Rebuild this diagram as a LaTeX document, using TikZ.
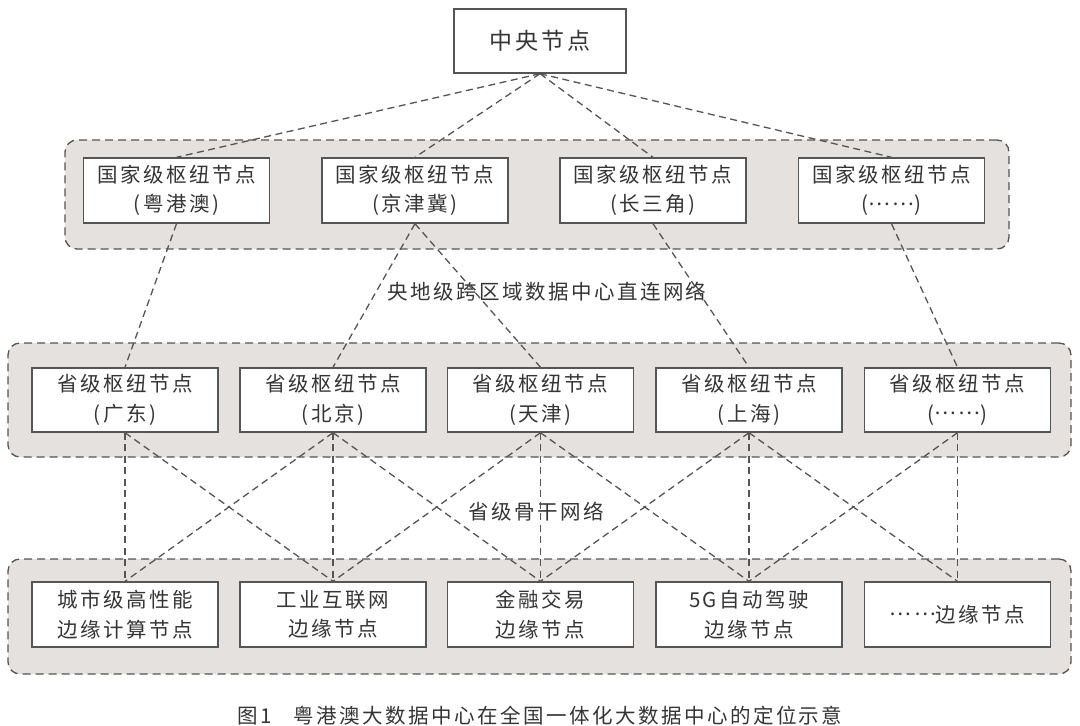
\documentclass[tikz,border=0pt]{standalone}
\usepackage{fontspec}
\setmainfont[LetterSpace=12]{Noto Sans CJK SC}
\definecolor{txt}{HTML}{353535}
\definecolor{edgec}{HTML}{555555}
\definecolor{panelc}{HTML}{E4E1DE}
\newcommand\midellip{\raisebox{0.32em}{……}}
\begin{document}
\begin{tikzpicture}[x=1pt,y=-1pt,
  box/.style={draw=edgec, line width=1.4pt, fill=white, minimum width=186pt,
    minimum height=65pt, inner sep=0pt, align=center, text=txt,
    font=\fontsize{20.5}{29.5}\selectfont},
  panel/.style={draw=edgec, line width=1.3pt, dash pattern=on 8pt off 5pt,
    fill=panelc, rounded corners=12pt, inner sep=0pt},
  link/.style={draw=edgec, line width=1.3pt, dash pattern=on 7pt off 4.5pt},
  lbl/.style={text=txt, inner sep=0pt, font=\fontsize{20.5}{24}\selectfont}]
\useasboundingbox[fill=white] (0,0) rectangle (1080,726);
% containers
\node[panel, minimum width=944pt, minimum height=109pt] (p1) at (537,194.5) {};
\node[panel, minimum width=1063pt, minimum height=114pt] (p2) at (539.5,400) {};
\node[panel, minimum width=1063pt, minimum height=115pt] (p3) at (539.5,616.5) {};
% central node
\node[box, minimum width=172pt, minimum height=64pt, font=\fontsize{23}{28}\selectfont] (c) at (540,41) {中央节点};
% national hubs
\node[box] (a1) at (176.5,190.5) {国家级枢纽节点\\(粤港澳)};
\node[box] (a2) at (415,190.5) {国家级枢纽节点\\(京津冀)};
\node[box] (a3) at (653,190.5) {国家级枢纽节点\\(长三角)};
\node[box] (a4) at (891.5,190.5) {国家级枢纽节点\\(\midellip)};
% provincial hubs
\node[box, minimum height=64pt] (b1) at (125,400) {省级枢纽节点\\(广东)};
\node[box, minimum height=64pt] (b2) at (333,400) {省级枢纽节点\\(北京)};
\node[box, minimum height=64pt] (b3) at (540.5,400) {省级枢纽节点\\(天津)};
\node[box, minimum height=64pt] (b4) at (749,400) {省级枢纽节点\\(上海)};
\node[box, minimum height=64pt] (b5) at (957.5,400) {省级枢纽节点\\(\midellip)};
% edge nodes
\node[box] (e1) at (125,614.5) {城市级高性能\\边缘计算节点};
\node[box] (e2) at (333,614.5) {工业互联网\\边缘节点};
\node[box] (e3) at (540.5,614.5) {金融交易\\边缘节点};
\node[box] (e4) at (749,614.5) {5G自动驾驶\\边缘节点};
\node[box] (e5) at (957.5,614.5) {\midellip 边缘节点};
% labels
\node[lbl] (l1) at (547,292) {央地级跨区域数据中心直连网络};
\node[lbl] (l2) at (536,512) {省级骨干网络};
\node[lbl] (cap) at (540,716) {图1\hspace{22pt}粤港澳大数据中心在全国一体化大数据中心的定位示意};
% links central -> national
\foreach \n in {a1,a2,a3,a4} \draw[link] (c.south) -- (\n.north);
% national -> provincial
\draw[link] (a1.south) -- (b1.north);
\draw[link] (a2.south) -- (b2.north);
\draw[link] (a2.south) -- (b3.north);
\draw[link] (a3.south) -- (b4.north);
\draw[link] (a4.south) -- (b5.north);
% provincial -> edge
\draw[link] (b1.south) -- (e1.north);
\draw[link] (b1.south) -- (e2.north);
\draw[link] (b2.south) -- (e1.north);
\draw[link] (b2.south) -- (e2.north);
\draw[link] (b2.south) -- (e3.north);
\draw[link] (b3.south) -- (e2.north);
\draw[link] (b3.south) -- (e3.north);
\draw[link] (b3.south) -- (e4.north);
\draw[link] (b4.south) -- (e3.north);
\draw[link] (b4.south) -- (e4.north);
\draw[link] (b4.south) -- (e5.north);
\draw[link] (b5.south) -- (e4.north);
\draw[link] (b5.south) -- (e5.north);
\end{tikzpicture}
\end{document}
